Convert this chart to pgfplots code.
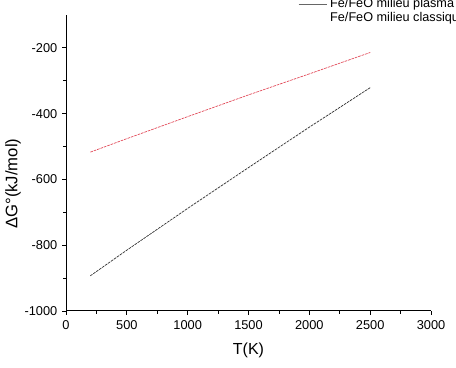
\documentclass[border=0pt]{standalone}
\usepackage{fontspec}
\setmainfont{Liberation Sans}
\usepackage{pgfplots}
\pgfplotsset{compat=1.18}
\definecolor{redline}{RGB}{225,70,85}
\definecolor{blackline}{RGB}{40,40,40}
\begin{document}
\begin{tikzpicture}
\begin{axis}[
  at={(0,0)}, anchor=south west,
  width=273.75pt, height=222pt, scale only axis,
  xmin=0, xmax=3000, ymin=-1000, ymax=-100,
  axis lines*=left,
  axis line style={line width=0.75pt},
  xtick={0,500,...,3000}, ytick={-1000,-800,...,-200},
  minor x tick num=1, minor y tick num=1,
  tick align=outside,
  major tick length=3pt, minor tick length=2pt,
  tick style={black, line width=0.6pt},
  ticklabel style={font=\fontsize{9.6}{10}\selectfont},
  /pgf/number format/assume math mode=true,
  /pgf/number format/1000 sep={},
  xticklabel style={yshift=-1pt},
  xlabel={T(K)}, ylabel={ΔG°(kJ/mol)},
  xlabel style={font=\fontsize{12}{14}\selectfont, at={(axis description cs:0.5,-0.132)}, anchor=center},
  ylabel style={font=\fontsize{12.5}{14}\selectfont, at={(axis description cs:-0.145,0.43)}, anchor=center, rotate=0},
  legend style={draw=none, fill=none, at={(axis description cs:0.636,1.066)}, anchor=north west,
    font=\fontsize{9.5}{10}\selectfont, inner sep=0pt, row sep=-2pt},
  legend cell align=left,
  legend image code/.code={\draw[#1] (0cm,0cm) -- (0.75cm,0cm);},
]
\addplot[blackline, line width=0.5pt, dash pattern=on 2pt off 0.7pt,
  legend image post style={solid, gray!80!black}] coordinates {
 (200,-893) (500,-815) (1000,-688) (1500,-564) (2000,-441) (2500,-321)
};
\addlegendentry{Fe/FeO milieu plasma}
\addplot[redline, line width=0.5pt, dash pattern=on 2pt off 0.7pt, forget plot] coordinates {
 (200,-517) (500,-476) (1000,-409) (1500,-343) (2000,-279) (2500,-214)
};
\addlegendimage{empty legend}
\addlegendentry{Fe/FeO milieu classique}
\end{axis}
\pgfresetboundingbox
\path[use as bounding box] (-49.5pt,-42pt) rectangle (292.5pt,233.25pt);
\end{tikzpicture}
\end{document}
